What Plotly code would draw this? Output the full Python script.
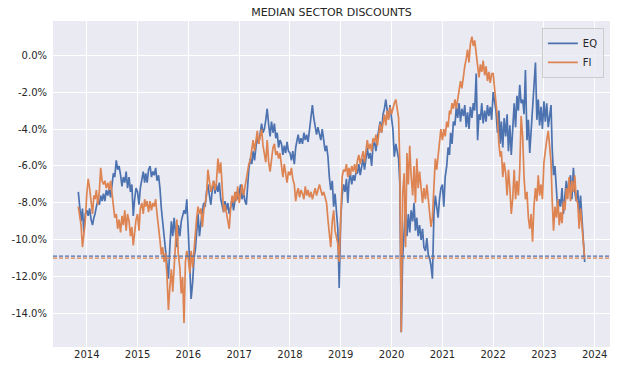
import plotly.graph_objects as go

# ---------------- data (percent, sampled on the 1st, 11th, 21st of each month) ----------------
years = list(range(2013, 2024))
first_month = {2013: 11}
last_month = {2023: 10}
sample_days = [1, 11, 21]

eq_2013 = [-7.4, -8.2, -9.0, -8.3, -9.6, -8.6]
eq_2014 = [-8.4, -8.7, -8.3, -8.9, -9.2, -8.8, -8.6, -8.2, -7.9, -8.1, -7.6, -7.9,
           -7.5, -7.9, -7.3, -7.6, -7.2, -7.7, -7.0, -6.4, -6.6, -5.7, -6.2, -6.0,
           -6.5, -7.1, -6.6, -6.9, -6.3, -7.2, -6.6, -7.4, -7.0, -8.7, -7.8, -7.2]
eq_2015 = [-7.4, -8.1, -7.2, -6.7, -6.3, -6.9, -6.4, -6.9, -6.2, -6.0, -6.6, -6.3,
           -6.5, -6.1, -6.8, -6.5, -7.2, -8.3, -9.0, -9.8, -10.6, -11.2, -12.1, -10.4,
           -9.0, -9.8, -8.8, -9.6, -10.4, -9.2, -9.8, -9.0, -8.6, -8.4, -8.6, -7.8]
eq_2016 = [-9.6, -11.8, -13.2, -12.3, -11.0, -10.5, -9.3, -8.6, -9.8, -9.0, -8.4, -8.0,
           -8.2, -7.4, -7.0, -7.6, -8.1, -7.3, -6.8, -7.5, -7.0, -7.4, -6.9, -7.8,
           -8.1, -8.5, -7.9, -8.4, -8.0, -8.6, -8.2, -7.8, -8.4, -7.9, -7.4, -7.8]
eq_2017 = [-7.5, -7.0, -7.8, -7.4, -7.9, -8.1, -7.0, -6.2, -5.6, -5.9, -5.2, -5.7,
           -5.0, -4.4, -4.8, -4.3, -3.7, -4.2, -4.0, -3.5, -2.9, -3.8, -4.4, -3.6,
           -4.2, -3.7, -4.5, -4.2, -5.0, -4.6, -4.8, -5.4, -4.9, -5.3, -4.7, -5.2]
eq_2018 = [-5.3, -5.7, -5.2, -5.9, -5.0, -4.6, -4.3, -4.8, -4.5, -4.8, -4.2, -4.6,
           -4.3, -4.7, -4.0, -3.6, -2.7, -3.4, -3.8, -4.3, -3.9, -4.2, -4.6, -4.0,
           -4.7, -5.2, -4.9, -5.5, -6.6, -7.3, -6.8, -8.2, -7.5, -8.6, -9.4, -12.6]
eq_2019 = [-8.8, -7.6, -7.0, -7.4, -6.7, -8.0, -6.9, -6.4, -7.0, -6.5, -6.8, -6.3,
           -6.4, -5.9, -6.5, -6.0, -5.6, -6.2, -5.5, -5.0, -5.6, -5.3, -6.0, -4.9,
           -4.7, -5.2, -4.5, -4.0, -3.6, -4.2, -3.2, -2.9, -2.4, -3.0, -3.4, -2.7]
eq_2020 = [-3.4, -4.0, -5.5, -4.8, -5.2, -5.6, -7.0, -15.0, -11.0, -9.4, -8.2, -9.8,
           -8.6, -9.6, -8.4, -9.0, -8.0, -9.5, -8.8, -9.8, -9.2, -10.0, -9.4, -10.4,
           -10.6, -9.9, -10.8, -11.0, -11.4, -12.1, -8.6, -7.6, -8.2, -8.8, -7.8, -7.2]
eq_2021 = [-7.0, -8.2, -6.6, -6.0, -5.0, -5.4, -4.2, -4.8, -3.6, -3.8, -2.8, -3.4,
           -2.6, -3.6, -2.9, -3.3, -2.7, -3.9, -3.1, -4.0, -2.8, -3.4, -2.6, -3.0,
           -1.0, -4.6, -3.2, -3.5, -2.6, -3.7, -3.0, -3.6, -2.7, -3.3, -2.8, -3.5]
eq_2022 = [-2.0, -2.4, -3.0, -4.2, -3.0, -4.8, -3.6, -5.0, -3.4, -4.4, -3.2, -5.2,
           -3.8, -5.4, -4.0, -2.6, -3.9, -2.2, -3.0, -1.6, -2.6, -2.4, -3.2, -0.8,
           -4.6, -3.5, -5.3, -4.0, -3.2, -1.8, -0.4, -3.5, -2.4, -3.8, -2.8, -4.0]
eq_2023 = [-2.5, -3.6, -2.6, -3.9, -3.2, -2.7, -5.0, -6.5, -6.0, -7.4, -8.5, -7.8,
           -8.2, -7.2, -8.6, -7.6, -6.8, -7.4, -7.0, -6.5, -7.8, -6.1, -7.4, -7.9,
           -7.3, -8.6, -7.6, -8.8, -10.2, -11.2]

fi_2013 = [-8.2, -8.8, -9.2, -10.4, -9.6, -9.0]
fi_2014 = [-7.5, -6.7, -7.2, -8.0, -8.6, -7.6, -7.8, -7.3, -8.1, -7.4, -6.1, -6.8,
           -7.0, -6.8, -7.2, -6.9, -7.3, -6.8, -7.4, -8.3, -8.8, -8.6, -9.4, -8.9,
           -9.6, -8.7, -9.2, -8.4, -9.5, -8.6, -9.0, -9.8, -9.3, -10.3, -9.5, -8.9]
fi_2015 = [-8.6, -9.5, -8.3, -8.0, -8.6, -7.8, -8.2, -7.9, -8.5, -7.9, -8.4, -8.0,
           -8.2, -7.8, -8.6, -9.2, -10.0, -10.8, -10.4, -11.2, -10.7, -12.0, -13.8, -12.6,
           -11.6, -12.8, -11.4, -10.5, -8.9, -10.8, -11.5, -12.9, -12.0, -14.5, -11.2, -10.6]
fi_2016 = [-11.0, -11.8, -10.6, -11.5, -10.4, -9.6, -8.8, -8.2, -8.6, -8.3, -9.3, -8.4,
           -8.0, -7.6, -6.2, -6.9, -7.4, -7.1, -6.8, -7.3, -6.9, -5.6, -6.4, -5.8,
           -7.2, -8.5, -8.1, -8.6, -9.0, -9.4, -8.2, -7.6, -8.0, -7.4, -7.9, -7.1]
fi_2017 = [-8.0, -7.4, -7.0, -7.6, -7.1, -6.6, -6.3, -5.9, -5.7, -5.1, -4.6, -5.2,
           -4.5, -4.1, -4.8, -4.4, -4.0, -4.9, -5.3, -5.8, -4.6, -5.8, -6.3, -5.5,
           -5.0, -4.8, -5.4, -5.2, -5.6, -5.3, -6.0, -6.6, -5.9, -6.4, -6.9, -6.3]
fi_2018 = [-6.5, -6.1, -6.7, -7.0, -7.9, -7.4, -7.2, -7.7, -7.3, -7.5, -7.8, -7.1,
           -7.6, -7.3, -7.7, -7.4, -7.8, -7.5, -7.2, -7.6, -7.3, -7.0, -7.3, -7.6,
           -7.4, -7.8, -8.0, -8.9, -9.9, -10.4, -9.0, -8.4, -9.5, -9.8, -10.2, -11.2]
fi_2019 = [-8.0, -6.6, -6.2, -6.3, -5.9, -6.6, -6.1, -6.5, -6.0, -6.3, -5.9, -6.4,
           -5.7, -5.4, -5.9, -5.5, -5.2, -5.8, -5.0, -4.6, -5.1, -4.8, -5.2, -4.5,
           -4.7, -4.3, -4.9, -4.1, -3.7, -4.2, -3.6, -3.2, -3.8, -3.0, -3.5, -2.8]
fi_2020 = [-3.2, -2.8, -2.6, -2.4, -2.9, -3.4, -6.0, -15.0, -7.5, -6.4, -10.4, -5.3,
           -7.0, -4.9, -6.5, -7.6, -6.0, -8.0, -5.6, -7.2, -6.3, -7.4, -8.0, -7.2,
           -7.8, -7.0, -7.9, -8.5, -9.3, -8.8, -6.6, -5.6, -6.2, -5.4, -4.6, -4.0]
fi_2021 = [-4.6, -4.0, -4.4, -3.6, -3.9, -3.0, -3.2, -2.6, -2.9, -2.4, -2.9, -2.3,
           -1.9, -1.4, -1.8, -1.1, -0.6, -0.2, 0.3, -0.4, 0.6, 1.0, 0.5, 0.8,
           0.0, -0.6, -1.2, -0.5, -0.9, -0.3, -1.1, -0.6, -1.4, -0.9, -1.5, -1.0]
fi_2022 = [-1.0, -1.8, -2.6, -3.4, -4.8, -5.5, -5.2, -6.6, -5.8, -6.4, -7.6, -6.2,
           -7.2, -8.6, -7.8, -6.2, -7.8, -6.8, -7.6, -6.2, -3.3, -4.4, -6.6, -7.8,
           -7.4, -8.8, -9.4, -8.6, -10.1, -8.2, -7.2, -7.9, -6.5, -7.6, -7.0, -7.8]
fi_2023 = [-5.8, -5.0, -4.6, -4.1, -5.2, -5.8, -7.8, -9.5, -8.2, -8.8, -7.8, -9.2,
           -8.5, -9.1, -7.9, -8.4, -7.2, -7.8, -6.6, -7.9, -6.8, -7.4, -6.5, -7.8,
           -8.0, -9.4, -8.3, -9.2, -10.0, -11.0]

eq_ref = -10.88   # dashed reference level, EQ
fi_ref = -10.99   # dashed reference level, FI

y_ticks = [0, -2, -4, -6, -8, -10, -12, -14]
y_tick_labels = ["0.0%", "-2.0%", "-4.0%", "-6.0%", "-8.0%", "-10.0%", "-12.0%", "-14.0%"]
x_tick_years = list(range(2014, 2025))

# ---------------- assemble ----------------
dates = []
for yr in years:
    for mo in range(first_month.get(yr, 1), last_month.get(yr, 12) + 1):
        for d in sample_days:
            dates.append(f"{yr}-{mo:02d}-{d:02d}")

eq = (eq_2013 + eq_2014 + eq_2015 + eq_2016 + eq_2017 + eq_2018 + eq_2019 +
      eq_2020 + eq_2021 + eq_2022 + eq_2023)
fi = (fi_2013 + fi_2014 + fi_2015 + fi_2016 + fi_2017 + fi_2018 + fi_2019 +
      fi_2020 + fi_2021 + fi_2022 + fi_2023)
assert len(eq) == len(dates) == len(fi), (len(eq), len(fi), len(dates))

BLUE = "#4C72B0"
ORANGE = "#DD8452"
TXT = "#262626"
FONT = "DejaVu Sans"

fig = go.Figure()
fig.add_trace(go.Scatter(x=dates, y=eq, mode="lines", name="EQ",
                         line=dict(color=BLUE, width=1.7)))
fig.add_trace(go.Scatter(x=dates, y=fi, mode="lines", name="FI",
                         line=dict(color=ORANGE, width=1.7)))

for val, col in ((eq_ref, BLUE), (fi_ref, ORANGE)):
    fig.add_shape(type="line", xref="paper", x0=0, x1=1, yref="y", y0=val, y1=val,
                  line=dict(color=col, width=1.1, dash="4px,2px"), layer="above")

fig.update_layout(
    width=623, height=374,
    margin=dict(l=53, r=13, t=21, b=27),
    paper_bgcolor="white",
    plot_bgcolor="#EAEAF2",
    font=dict(family=FONT, size=10, color=TXT),
    title=dict(text="MEDIAN SECTOR DISCOUNTS", x=0.532, xanchor="center",
               y=1 - 12 / 374, yanchor="middle",
               font=dict(family=FONT, size=11, color=TXT)),
    legend=dict(x=0.989, y=0.979, xanchor="right", yanchor="top",
                bgcolor="rgba(234,234,242,0.8)", bordercolor="#CCCCCC", borderwidth=1,
                font=dict(family=FONT, size=10, color=TXT),
                itemwidth=30, tracegroupgap=0),
    showlegend=True,
)
fig.update_xaxes(
    range=["2013-05-03", "2024-04-20"],
    tickvals=[f"{y}-01-01" for y in x_tick_years],
    ticktext=[str(y) for y in x_tick_years],
    showgrid=True, gridcolor="white", gridwidth=1,
    zeroline=False, showline=False, ticks="",
    tickfont=dict(family=FONT, size=10, color=TXT),
)
fig.update_yaxes(
    range=[-15.8, 1.85],
    tickvals=y_ticks, ticktext=y_tick_labels,
    showgrid=True, gridcolor="white", gridwidth=1,
    zeroline=False, showline=False, ticks="",
    ticklabelstandoff=5,
    tickfont=dict(family=FONT, size=10, color=TXT),
)

fig.write_html("out.html", config={"displayModeBar": False},
               post_script="document.body.style.margin='0';")
